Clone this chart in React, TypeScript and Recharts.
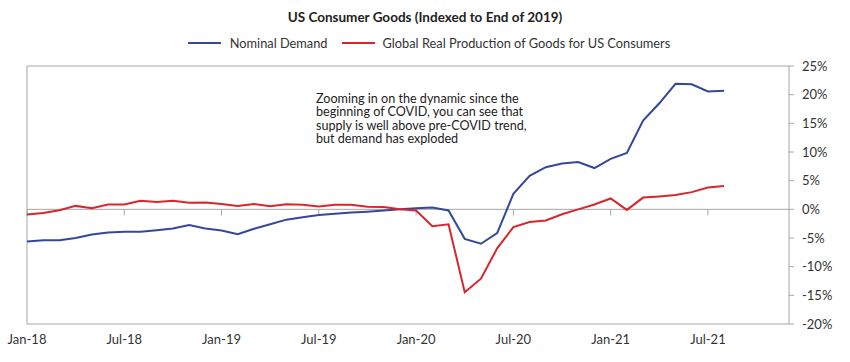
import React from "react";
import { LineChart, Line, XAxis, YAxis, ReferenceLine } from "recharts";

const months = [
  "Jan-18", "Feb-18", "Mar-18", "Apr-18", "May-18", "Jun-18", "Jul-18", "Aug-18", "Sep-18", "Oct-18", "Nov-18", "Dec-18",
  "Jan-19", "Feb-19", "Mar-19", "Apr-19", "May-19", "Jun-19", "Jul-19", "Aug-19", "Sep-19", "Oct-19", "Nov-19", "Dec-19",
  "Jan-20", "Feb-20", "Mar-20", "Apr-20", "May-20", "Jun-20", "Jul-20", "Aug-20", "Sep-20", "Oct-20", "Nov-20", "Dec-20",
  "Jan-21", "Feb-21", "Mar-21", "Apr-21", "May-21", "Jun-21", "Jul-21", "Aug-21", "Sep-21", "Oct-21", "Nov-21", "Dec-21",
];

const nominalDemand = [
  -5.6, -5.4, -5.4, -5.0, -4.4, -4.05, -3.9, -3.9, -3.65, -3.35, -2.75, -3.35,
  -3.7, -4.35, -3.4, -2.6, -1.8, -1.4, -1.0, -0.75, -0.55, -0.4, -0.2, 0,
  0.2, 0.3, -0.2, -5.15, -6.0, -4.15, 2.7, 5.85, 7.35, 8.0, 8.25, 7.2,
  8.8, 9.85, 15.5, 18.5, 21.9, 21.8, 20.55, 20.7,
];

const realProduction = [
  -0.9, -0.65, -0.15, 0.6, 0.2, 0.85, 0.85, 1.5, 1.3, 1.5, 1.15, 1.2,
  0.95, 0.6, 0.95, 0.55, 0.9, 0.8, 0.5, 0.8, 0.8, 0.45, 0.4, 0,
  -0.2, -2.95, -2.6, -14.45, -12.1, -6.8, -3.1, -2.2, -1.95, -0.85, 0, 0.85,
  1.9, -0.1, 2.05, 2.25, 2.5, 3.0, 3.8, 4.05,
];

const tickMonths = ["Jan-18", "Jul-18", "Jan-19", "Jul-19", "Jan-20", "Jul-20", "Jan-21", "Jul-21"];
const yTicks = [-20, -15, -10, -5, 0, 5, 10, 15, 20, 25];

const data = months.map((m, i) => ({
  month: m,
  nominal: nominalDemand[i] ?? null,
  production: realProduction[i] ?? null,
}));

const BLUE = "#34489a";
const RED = "#d8262f";
const AXIS = "#a6a6a6";
const TEXT = "#333";
const FONT = "Lato, 'Open Sans', sans-serif";

const XTick = (props: any) => {
  const { x, y, payload } = props;
  return (
    <text x={x} y={y + 12} textAnchor="middle" fill={TEXT} fontSize={13} fontFamily={FONT}>
      {payload.value}
    </text>
  );
};

export default function App() {
  return (
    <div style={{ position: "absolute", left: 0, top: 0, width: 850, height: 362, background: "#fff", fontFamily: FONT }}>
      <div style={{ position: "absolute", top: 9, width: 850, textAlign: "center", fontWeight: 700, fontSize: 13.5, color: "#222" }}>
        US Consumer Goods (Indexed to End of 2019)
      </div>
      <div style={{ position: "absolute", top: 35, left: 4, width: 850, display: "flex", justifyContent: "center", alignItems: "center", fontSize: 12.8, color: TEXT }}>
        <span style={{ display: "inline-block", width: 33, height: 2, background: BLUE, marginRight: 9 }} />
        <span style={{ marginRight: 14 }}>Nominal Demand</span>
        <span style={{ display: "inline-block", width: 33, height: 2, background: RED, marginRight: 8 }} />
        <span>Global Real Production of Goods for US Consumers</span>
      </div>
      <LineChart width={850} height={362} data={data} margin={{ top: 66, right: 0, left: 27, bottom: 0 }}>
        <XAxis
          dataKey="month"
          interval={5}
          height={38}
          axisLine={false}
          tickLine={false}
          tick={<XTick />}
        />
        <YAxis
          orientation="right"
          width={61}
          domain={[-20, 25]}
          ticks={yTicks}
          tickFormatter={(v: number) => `${v}%`}
          axisLine={{ stroke: AXIS }}
          tickLine={{ stroke: AXIS }}
          tickSize={5}
          tickMargin={8}
          tick={{ fill: TEXT, fontSize: 13, fontFamily: FONT }}
        />
        <ReferenceLine y={25} stroke={AXIS} />
        <ReferenceLine y={-20} stroke={AXIS} />
        <ReferenceLine x="Jan-18" stroke={AXIS} />
        <ReferenceLine y={0} stroke={AXIS} />
        {tickMonths.map((m) => (
          <ReferenceLine key={m} segment={[{ x: m, y: 0 }, { x: m, y: -1.05 }]} stroke={AXIS} />
        ))}
        <Line type="linear" dataKey="nominal" stroke={BLUE} strokeWidth={2} dot={false} isAnimationActive={false} connectNulls={false} />
        <Line type="linear" dataKey="production" stroke={RED} strokeWidth={2} dot={false} isAnimationActive={false} connectNulls={false} />
      </LineChart>
      <div style={{ position: "absolute", left: 316, top: 92, fontSize: 12.6, lineHeight: "13.4px", color: "#222" }}>
        Zooming in on the dynamic since the<br />
        beginning of COVID, you can see that<br />
        supply is well above pre-COVID trend,<br />
        but demand has exploded
      </div>
    </div>
  );
}
